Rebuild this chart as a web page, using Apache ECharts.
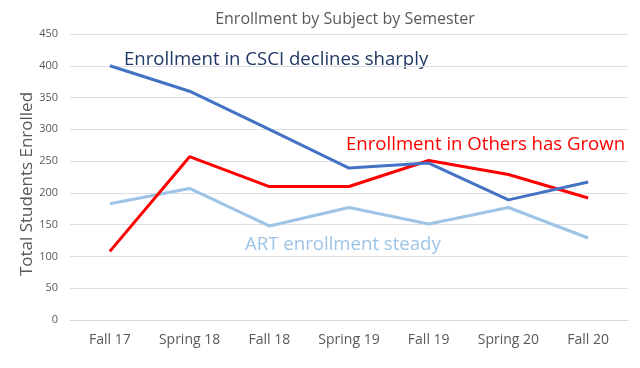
<!DOCTYPE html>
<html><head><meta charset="utf-8">
<script src="https://cdn.jsdelivr.net/npm/echarts@6/dist/echarts.min.js"></script>
<style>html,body{margin:0;padding:0;background:#fff}#c{width:640px;height:368px}</style>
</head><body><div id="c"></div>
<script>
const categories = ['Fall 17','Spring 18','Fall 18','Spring 19','Fall 19','Spring 20','Fall 20'];
const csci = [400, 360, 300, 239, 247, 189, 217];
const others = [108, 257, 210, 210, 251, 229, 192];
const art = [183, 207, 148, 177, 151, 177, 129];
const yTicks = [0, 50, 100, 150, 200, 250, 300, 350, 400, 450];

const font = 'Open Sans';
const chart = echarts.init(document.getElementById('c'), null, {renderer:'canvas'});
const mk = (name, data, color) => ({
  name, type:'line', data, symbol:'none', smooth:false,
  lineStyle:{width:3, color}, itemStyle:{color}
});
chart.setOption({
  animation:false,
  title:{text:'Enrollment by Subject by Semester', left:340, top:6, textAlign:'center',
    textStyle:{fontFamily:font, fontSize:16, fontWeight:'normal', color:'#595959'}},
  grid:{left:70, right:12, top:34, bottom:48, containLabel:false},
  xAxis:{type:'category', data:categories, boundaryGap:true,
    axisLine:{show:true, lineStyle:{color:'#d9d9d9'}}, axisTick:{show:false},
    axisLabel:{fontFamily:font, fontSize:14, color:'#595959', margin:13, interval:0}},
  yAxis:{type:'value', min:yTicks[0], max:yTicks[yTicks.length-1], interval:50,
    axisLine:{show:false}, axisTick:{show:false},
    axisLabel:{fontFamily:font, fontSize:11, color:'#595959', margin:12}},
  series:[ mk('ART', art, '#9dc3e6'), mk('Others', others, '#ff0000'), mk('CSCI', csci, '#4472c4') ],
  graphic:[
    {type:'text', x:27, y:184, rotation:Math.PI/2, style:{text:'Total Students Enrolled', fontFamily:font, fontSize:17, fill:'#595959', align:'center', verticalAlign:'middle'}},
    {type:'text', left:124, top:50, style:{text:'Enrollment in CSCI declines sharply', fontFamily:font, fontSize:18.6, fill:'#203864'}},
    {type:'text', left:346, top:135, style:{text:'Enrollment in Others has Grown', fontFamily:font, fontSize:18.6, fill:'#ff0000'}},
    {type:'text', left:245, top:235, style:{text:'ART enrollment steady', fontFamily:font, fontSize:18.6, fill:'#9dc3e6'}}
  ]
});
</script></body></html>
